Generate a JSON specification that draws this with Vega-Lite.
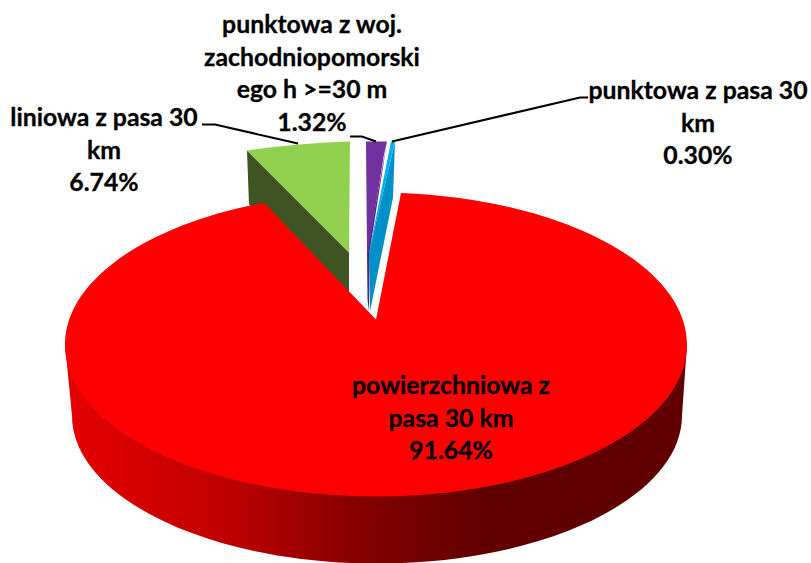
{
  "$schema": "https://vega.github.io/schema/vega-lite/v6.json",
  "width": 811,
  "height": 563,
  "autosize": {"type": "fit", "contains": "padding"},
  "padding": 0,
  "background": "white",
  "view": {"stroke": null},
  "data": {"values": [
    {"slice": "liniowa", "value": 6.74, "label": "liniowa z pasa 30\nkm\n6.74%"},
    {"slice": "woj", "value": 1.32, "label": "punktowa z woj.\nzachodniopomorski\nego h >=30 m\n1.32%"},
    {"slice": "punktowa", "value": 0.30, "label": "punktowa z pasa 30\nkm\n0.30%"},
    {"slice": "powierzchniowa", "value": 91.64, "label": "powierzchniowa z\npasa 30 km\n91.64%"}
  ]},
  "layer": [
    {
      "transform": [{"filter": "datum.slice === 'powierzchniowa'"}],
      "mark": {"type": "point", "filled": true, "opacity": 1, "size": 4, "strokeWidth": 0,
        "fill": {"gradient": "linear", "x1": 0, "y1": 0, "x2": 1, "y2": 0, "stops": [
          {"offset": 0, "color": "#e60000"},
          {"offset": 0.25, "color": "#c00000"},
          {"offset": 0.49, "color": "#820000"},
          {"offset": 0.68, "color": "#600000"},
          {"offset": 1, "color": "#600000"}
        ]}},
      "encoding": {
        "shape": {"field": "slice", "type": "nominal", "legend": null, "scale": {"domain": ["powierzchniowa"], "range": ["M-340.5 63.5L-333.5 134.5A305 148 0 0 0 276.5 134.5L281.5 63.5Z"]}}
      }
    },
    {
      "transform": [{"filter": "datum.slice !== 'powierzchniowa'"}],
      "mark": {"type": "point", "filled": true, "opacity": 1, "size": 4, "strokeWidth": 0},
      "encoding": {
        "shape": {"field": "slice", "type": "nominal", "legend": null, "scale": {"domain": ["liniowa", "woj", "punktowa"], "range": [
          "M-158.5 -130.5L-56.5 -28.5L-56.5 13.5L-156.5 -76.5Z",
          "M-18.5 -139.5L-36 -28.5L-36.5 30.5L-38 18.5L-38.5 -28.5Z",
          "M-10.5 -139.5L-12.5 -83.5L-35.5 30.5L-36.5 -28.5Z"
        ]}},
        "fill": {"field": "slice", "type": "nominal", "legend": null, "scale": {"domain": ["liniowa", "woj", "punktowa"], "range": ["#3e5422", "#552680", "#0090c8"]}}
      }
    },
    {
      "mark": {"type": "point", "filled": true, "opacity": 1, "size": 4, "strokeWidth": 0},
      "encoding": {
        "shape": {"field": "slice", "type": "nominal", "legend": null, "scale": {"domain": ["liniowa", "woj", "punktowa", "powierzchniowa"], "range": [
          "M-158.5 -130.5Q-105.5 -138 -55.5 -139.5L-56.5 -28.5Z",
          "M-39.5 -139.5L-18.5 -139.5L-21.5 -126.5L-37.5 -28.5L-38.5 -28.5Z",
          "M-14.5 -139.5L-10.5 -139.5L-36.5 -28.5Z",
          "M-29.5 38.5L-4.5 -88A311 152 0 0 1 281.5 63.5A311 152 0 0 1 -29.5 215.5A311 152 0 0 1 -340.5 63.5A311 152 0 0 1 -141.5 -78.3Z"
        ]}},
        "fill": {"field": "slice", "type": "nominal", "legend": null, "scale": {"domain": ["liniowa", "woj", "punktowa", "powierzchniowa"], "range": ["#92d050", "#7030a0", "#00b0f0", "#ff0000"]}}
      }
    },
    {
      "transform": [{"filter": "datum.slice !== 'powierzchniowa'"}],
      "mark": {"type": "point", "filled": false, "opacity": 1, "size": 4, "stroke": "#000000", "strokeWidth": 2, "fill": null},
      "encoding": {
        "shape": {"field": "slice", "type": "nominal", "legend": null, "scale": {"domain": ["liniowa", "woj", "punktowa"], "range": [
          "M-203.5 -156.5L-190.5 -156.5L-107.5 -137.5",
          "M-55.5 -144.5L-43.5 -144.5L-29.5 -139.5",
          "M-13.5 -139.5L174.5 -183.5L182.5 -183.5"
        ]}}
      }
    },
    {
      "mark": {"type": "text", "font": "Lato", "fontWeight": "bold", "fontSize": 24.8, "color": "#000000", "stroke": "#000000", "strokeWidth": 0.3, "align": "center", "baseline": "alphabetic", "lineBreak": "\n", "lineHeight": 32.7},
      "encoding": {
        "text": {"field": "label", "type": "nominal"},
        "x": {"field": "value", "type": "quantitative", "axis": null, "scale": {"domain": [0.30, 1.32, 6.74, 91.64], "range": [698, 312, 104, 451], "zero": false, "nice": false}},
        "y": {"field": "value", "type": "quantitative", "axis": null, "scale": {"domain": [0.30, 1.32, 6.74, 91.64], "range": [99, 33, 126, 394], "zero": false, "nice": false}}
      }
    }
  ],
  "resolve": {"scale": {"shape": "independent", "fill": "independent"}}
}
